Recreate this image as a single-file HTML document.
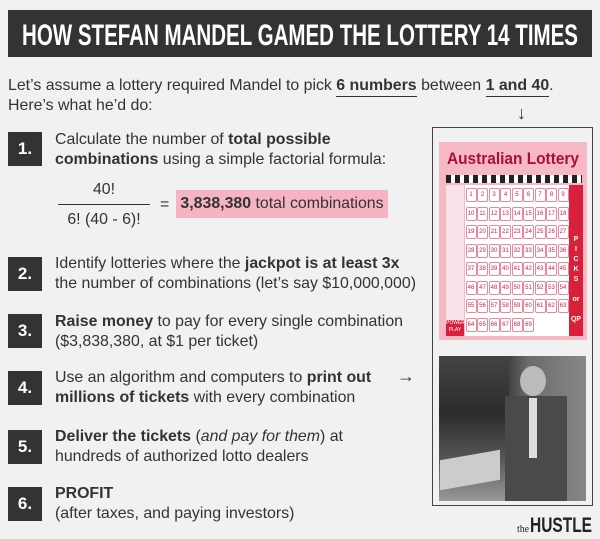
<!DOCTYPE html>
<html><head><meta charset="utf-8"><style>
body{margin:0;width:600px;height:539px;background:#f0f1f0;font-family:"Liberation Sans",sans-serif;color:#333;position:relative;overflow:hidden}
.a{position:absolute}
.t{font-size:15.9px;line-height:20px;white-space:nowrap}
.box{position:absolute;left:8px;width:34px;height:34px;background:#333;color:#fff;font-weight:bold;font-size:17px;line-height:34px;text-align:center}
u{text-decoration:none;border-bottom:1.5px solid #333;padding-bottom:2px}
.g{display:grid;grid-template-columns:repeat(9,11.5px);grid-auto-rows:18.5px;justify-content:center}
.n{width:9px;height:12px;border:1px solid #e8889c;border-radius:2px;font-size:6px;line-height:12px;text-align:center;color:#d02040;margin:3px auto 0}
</style></head><body>
<div class="a" style="left:8px;top:10px;width:584px;height:47px;background:#333"></div>
<svg class="a" style="left:8px;top:10px" width="584" height="47"><text x="14" y="35" textLength="556" lengthAdjust="spacingAndGlyphs" fill="#fff" font-family="Liberation Sans" font-weight="bold" font-size="30">HOW STEFAN MANDEL GAMED THE LOTTERY 14 TIMES</text></svg>
<div class="a t" style="left:8px;top:76px">Let’s assume a lottery required Mandel to pick <b><u>6 numbers</u></b> between <b><u>1 and 40</u></b>.<br>Here’s what he’d do:</div>
<div class="a" style="left:517px;top:103px;font-size:18px">↓</div>

<div class="box" style="top:132px">1.</div>
<div class="a t" style="left:55px;top:130px">Calculate the number of <b>total possible</b><br><b>combinations</b> using a simple factorial formula:</div>
<div class="a t" style="left:58px;top:180px;width:92px;text-align:center">40!</div>
<div class="a" style="left:58px;top:204px;width:92px;height:1px;background:#333"></div>
<div class="a t" style="left:58px;top:210px;width:92px;text-align:center">6! (40 - 6)!</div>
<div class="a t" style="left:160px;top:195px">=</div>
<div class="a t" style="left:176px;top:190px;width:212px;height:28px;line-height:28px;background:#f6b3c2;text-align:center"><b>3,838,380</b> total combinations</div>

<div class="box" style="top:257px">2.</div>
<div class="a t" style="left:55px;top:254px">Identify lotteries where the <b>jackpot is at least 3x</b><br>the number of combinations (let’s say $10,000,000)</div>
<div class="box" style="top:314px">3.</div>
<div class="a t" style="left:55px;top:312px"><b>Raise money</b> to pay for every single combination<br>($3,838,380, at $1 per ticket)</div>
<div class="box" style="top:371px">4.</div>
<div class="a t" style="left:55px;top:368px">Use an algorithm and computers to <b>print out</b><br><b>millions of tickets</b> with every combination</div>
<div class="a" style="left:397px;top:366px;font-size:18px">→</div>
<div class="box" style="top:430px">5.</div>
<div class="a t" style="left:55px;top:427px"><b>Deliver the tickets</b> (<i>and pay for them</i>) at<br>hundreds of authorized lotto dealers</div>
<div class="box" style="top:487px">6.</div>
<div class="a t" style="left:55px;top:484px"><b>PROFIT</b><br>(after taxes, and paying investors)</div>

<div class="a" style="left:432px;top:127px;width:159px;height:377px;border:1.5px solid #444"></div>
<div class="a" style="left:439px;top:142px;width:148px;height:198px;background:#f7b8c6"></div>
<svg class="a" style="left:439px;top:142px" width="148" height="30"><text x="8" y="22" textLength="132" lengthAdjust="spacingAndGlyphs" fill="#a8103a" font-family="Liberation Sans" font-weight="bold" font-size="17">Australian Lottery</text></svg>
<div class="a" style="left:446px;top:175px;width:136px;height:8px;background:repeating-linear-gradient(90deg,#222 0 5px,#fff 5px 9px)"></div>
<div class="a" style="left:446px;top:185px;width:18px;height:135px;background:#fbe2e8"></div>
<div class="a" style="left:446px;top:320px;width:18px;height:16px;background:#d8203a;color:#fff;font-size:5px;text-align:center;line-height:7px">POWER PLAY</div>
<div class="a g" style="left:465px;top:185px;width:104px;height:151px;background:#fff">
<div class="n">1</div><div class="n">2</div><div class="n">3</div><div class="n">4</div><div class="n">5</div><div class="n">6</div><div class="n">7</div><div class="n">8</div><div class="n">9</div><div class="n">10</div><div class="n">11</div><div class="n">12</div><div class="n">13</div><div class="n">14</div><div class="n">15</div><div class="n">16</div><div class="n">17</div><div class="n">18</div><div class="n">19</div><div class="n">20</div><div class="n">21</div><div class="n">22</div><div class="n">23</div><div class="n">24</div><div class="n">25</div><div class="n">26</div><div class="n">27</div><div class="n">28</div><div class="n">29</div><div class="n">30</div><div class="n">31</div><div class="n">32</div><div class="n">33</div><div class="n">34</div><div class="n">35</div><div class="n">36</div><div class="n">37</div><div class="n">38</div><div class="n">39</div><div class="n">40</div><div class="n">41</div><div class="n">42</div><div class="n">43</div><div class="n">44</div><div class="n">45</div><div class="n">46</div><div class="n">47</div><div class="n">48</div><div class="n">49</div><div class="n">50</div><div class="n">51</div><div class="n">52</div><div class="n">53</div><div class="n">54</div><div class="n">55</div><div class="n">56</div><div class="n">57</div><div class="n">58</div><div class="n">59</div><div class="n">60</div><div class="n">61</div><div class="n">62</div><div class="n">63</div><div class="n">64</div><div class="n">65</div><div class="n">66</div><div class="n">67</div><div class="n">68</div><div class="n">69</div></div>
<div class="a" style="left:569px;top:185px;width:14px;height:151px;background:#d8203a;color:#fff;font-size:7px;font-weight:bold;text-align:center;line-height:10px;padding-top:50px;box-sizing:border-box">P<br>I<br>C<br>K<br>S<br><br>or<br><br>QP</div>

<div class="a" style="left:439px;top:356px;width:147px;height:145px;background:linear-gradient(90deg,#5a5a5a 0%,#3a3a3a 45%,#6a6a6a 60%,#888 100%)"></div>
<div class="a" style="left:439px;top:356px;width:70px;height:145px;background:linear-gradient(180deg,#444 0%,#2c2c2c 40%,#555 70%,#999 100%)"></div>
<div class="a" style="left:520px;top:366px;width:26px;height:30px;border-radius:50%;background:#bbb"></div>
<div class="a" style="left:505px;top:396px;width:62px;height:105px;background:#4a4a4a"></div>
<div class="a" style="left:529px;top:398px;width:8px;height:60px;background:#ddd"></div>
<div class="a" style="left:440px;top:455px;width:60px;height:30px;background:#ccc;transform:skewY(-10deg)"></div>

<svg class="a" style="left:515px;top:512px" width="80" height="24"><text x="2" y="20" textLength="12" lengthAdjust="spacingAndGlyphs" fill="#222" font-family="Liberation Serif" font-size="10">the</text><text x="15" y="20" textLength="62" lengthAdjust="spacingAndGlyphs" fill="#222" font-family="Liberation Sans" font-weight="bold" font-size="21">HUSTLE</text></svg>
</body></html>
